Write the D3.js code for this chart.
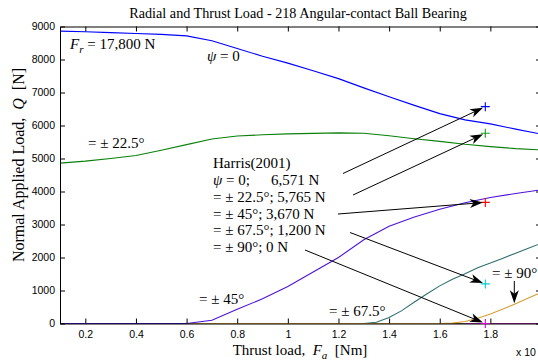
<!DOCTYPE html>
<html><head><meta charset="utf-8">
<script src="https://cdn.jsdelivr.net/npm/d3@7"></script>
<style>body{margin:0;background:#fff}svg{display:block}text{white-space:pre}</style>
</head><body><svg id="c" width="538" height="364"></svg>
<script>
// ---- data ----
const fa = [0.1,0.2,0.3,0.4,0.5,0.6,0.7,0.8,0.9,1.0,1.1,1.2,1.3,1.4,1.5,1.6,1.7,1.8,1.9,2.0];
const psi0  = [8860,8840,8815,8790,8760,8715,8570,8335,8100,7890,7660,7420,7140,6870,6610,6360,6170,6050,5890,5740];
const psi22 = [4860,4920,5000,5090,5250,5420,5590,5680,5720,5745,5760,5775,5765,5690,5600,5520,5430,5360,5300,5260];
const psi45 = [0,0,0,0,0,0,100,430,750,1120,1560,2000,2540,2950,3230,3460,3660,3820,3940,4050];
const fa67  = [0.1,1.3,1.35,1.4,1.45,1.5,1.55,1.6,1.65,1.7,1.75,1.8,1.85,1.9,1.95,2.0];
const psi67 = [0,0,40,180,390,650,900,1140,1340,1510,1690,1830,1980,2130,2280,2430];
const fa90  = [0.1,1.6,1.65,1.7,1.75,1.8,1.85,1.9,1.95,2.0];
const psi90 = [0,0,10,60,160,290,440,600,770,940];
const faRest = [0.1,1.7];  const restQ = [0,0];
const faMag  = [1.7,2.0];  const magQ  = [0,0];
const harrisFa = 1.78;
const harrisQ = [6571,5765,3670,1200,0];
const xTicks = [0.2,0.4,0.6,0.8,1.0,1.2,1.4,1.6,1.8];
const xTickLabels = ["0.2","0.4","0.6","0.8","1","1.2","1.4","1.6","1.8"];
const yTicks = [0,1000,2000,3000,4000,5000,6000,7000,8000,9000];

// ---- layout ----
const svg = d3.select("#c");
const L = 60, R = 541, T = 26.5, B = 323.5;
const x = d3.scaleLinear().domain([0.1,2.0]).range([L,R]);
const y = d3.scaleLinear().domain([0,9000]).range([B,T]);
const serif = "'Liberation Serif','Times New Roman',serif";
const sans = "'Liberation Sans',Arial,sans-serif";

const line = d3.line().x(d=>x(d[0])).y(d=>y(d[1]));
function drawSeries(xs, ys, color){
  svg.append("path").datum(xs.map((v,i)=>[v,ys[i]]))
    .attr("d", line).attr("fill","none").attr("stroke",color).attr("stroke-width",1.1);
}
drawSeries(fa, psi0, "#0000ff");
drawSeries(fa, psi22, "#0a800a");
drawSeries(faRest, restQ, "#76593a");
drawSeries(fa67, psi67, "#2f6f70");
drawSeries(fa90, psi90, "#d4a035");
drawSeries(fa, psi45, "#4d12d9");
drawSeries(faMag, magQ, "#b026b0");

// ---- axes ----
function styleAxis(g){
  g.selectAll(".domain").attr("stroke","#000");
  g.selectAll(".tick line").attr("stroke","#000");
  g.selectAll("text").attr("fill","#000").style("font-family",sans).style("font-size","10.5px");
}
const ax = svg.append("g").attr("transform",`translate(0,${B})`)
  .call(d3.axisBottom(x).tickValues(xTicks).tickFormat((d,i)=>xTickLabels[i]).tickSizeInner(-5).tickSizeOuter(0).tickPadding(7));
styleAxis(ax);
const axT = svg.append("g").attr("transform",`translate(0,${T})`)
  .call(d3.axisTop(x).tickValues(xTicks).tickFormat("").tickSizeInner(-5).tickSizeOuter(0));
styleAxis(axT);
const ay = svg.append("g").attr("transform",`translate(${L},0)`)
  .call(d3.axisLeft(y).tickValues(yTicks).tickFormat(d3.format("d")).tickSizeInner(-5).tickSizeOuter(0).tickPadding(5));
styleAxis(ay);
const ayR = svg.append("g").attr("transform",`translate(${R},0)`)
  .call(d3.axisRight(y).tickValues(yTicks).tickFormat("").tickSizeInner(-5).tickSizeOuter(0));
styleAxis(ayR);

// ---- Harris markers ----
const markColors = ["#0000ff","#1a9a1a","#ff0000","#00cccc","#d000d0"];
harrisQ.forEach((q,i)=>{
  const cx = x(harrisFa), cy = y(q);
  svg.append("path").attr("d",`M${cx-4.5},${cy}H${cx+4.5}M${cx},${cy-4.5}V${cy+4.5}`)
    .attr("stroke",markColors[i]).attr("stroke-width",1.1).attr("fill","none");
});

// ---- arrows ----
function arrow(x1,y1,x2,y2){
  const a = Math.atan2(y2-y1,x2-x1), len=13, hw=4.5, notch=3.5;
  const ca=Math.cos(a), sa=Math.sin(a);
  const bx = x2-len*ca, by = y2-len*sa;
  const nx = x2-(len-notch)*ca, ny = y2-(len-notch)*sa;
  svg.append("line").attr("x1",x1).attr("y1",y1).attr("x2",nx).attr("y2",ny)
    .attr("stroke","#000").attr("stroke-width",1);
  svg.append("path").attr("d",`M${x2},${y2}L${bx-hw*sa},${by+hw*ca}L${nx},${ny}L${bx+hw*sa},${by-hw*ca}Z`)
    .attr("fill","#000");
}
const starts = [[343,173.5],[353,195],[338,214],[350,232.5],[305,250]];
starts.forEach((s,i)=>{
  const tx = x(harrisFa), ty = y(harrisQ[i]);
  const a = Math.atan2(ty-s[1], tx-s[0]);
  arrow(s[0],s[1], tx-2.5*Math.cos(a), ty-2.5*Math.sin(a));
});
arrow(514.3,281,514.3,y(580)-1);

// ---- texts ----
function txt(xp,yp,size,family){
  return svg.append("text").attr("x",xp).attr("y",yp).attr("font-size",size).attr("font-family",family).attr("fill","#000");
}
txt(298,18,14.2,serif).attr("text-anchor","middle").text("Radial and Thrust Load - 218 Angular-contact Ball Bearing");

const xl = txt(300,355,15,serif).attr("text-anchor","middle");
xl.append("tspan").text("Thrust load,  ");
xl.append("tspan").attr("font-style","italic").text("F");
xl.append("tspan").attr("font-style","italic").attr("font-size",11).attr("dy",4).text("a");
xl.append("tspan").attr("dy",-4).text("  [Nm]");

const yl = txt(0,0,16,serif).attr("text-anchor","middle").attr("transform","translate(24,165) rotate(-90)");
yl.append("tspan").text("Normal Applied Load,  ");
yl.append("tspan").attr("font-style","italic").text("Q");
yl.append("tspan").text("  [N]");

txt(516,356,10.5,sans).text("x 10");

const fr = txt(70,48.5,15,serif);
fr.append("tspan").attr("font-style","italic").text("F");
fr.append("tspan").attr("font-style","italic").attr("font-size",11).attr("dy",4).text("r");
fr.append("tspan").attr("dy",-4).text(" = 17,800 N");

const p0 = txt(207,61,15,serif);
p0.append("tspan").attr("font-style","italic").text("ψ");
p0.append("tspan").text(" = 0");

txt(88,148,15,serif).text("= ± 22.5°");
txt(199,303.5,15,serif).text("= ± 45°");
txt(329,316,15,serif).text("= ± 67.5°");
txt(492,277.5,15,serif).text("= ± 90°");

txt(213,167.5,15,serif).text("Harris(2001)");
const h1 = txt(213,184.5,15,serif);
h1.append("tspan").attr("font-style","italic").text("ψ");
h1.append("tspan").text(" = 0;");
h1.append("tspan").attr("x",271).text("6,571 N");
txt(213,201.5,15,serif).text("= ± 22.5°; 5,765 N");
txt(213,218.5,15,serif).text("= ± 45°; 3,670 N");
txt(213,235,15,serif).text("= ± 67.5°; 1,200 N");
txt(213,251.5,15,serif).text("= ± 90°; 0 N");
</script></body></html>
